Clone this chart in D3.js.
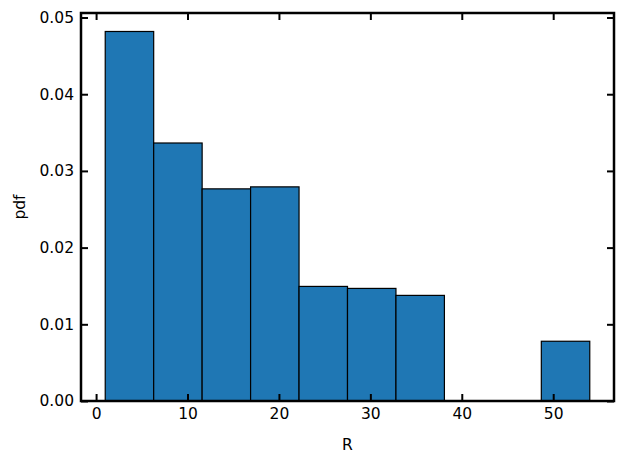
<!DOCTYPE html>
<html><head><meta charset="utf-8">
<script src="https://cdn.jsdelivr.net/npm/d3@7/dist/d3.min.js"></script>
<style>body{margin:0;background:#fff}svg{display:block}text{font-family:"DejaVu Sans",sans-serif}</style>
</head><body><svg id="c" width="623" height="463"></svg>
<script>
const binEdges = [1.0, 6.3, 11.6, 16.9, 22.2, 27.5, 32.8, 38.1, 43.4, 48.7, 54.0];
const pdfValues = [0.04818, 0.03364, 0.02766, 0.02792, 0.01494, 0.01468, 0.01377, 0.00005, 0.00005, 0.00779];
const xTicks = [0, 10, 20, 30, 40, 50];
const yTicks = [0.00, 0.01, 0.02, 0.03, 0.04, 0.05];

const svg = d3.select("#c");
const L = 81, R = 614, T = 13, B = 401;
const FS = 15.5;
const x = d3.scaleLinear().domain([-1.65, 56.65]).range([L, R]);
const y = d3.scaleLinear().domain([0, 0.05059]).range([B, T]);

const bins = pdfValues.map((v, i) => ({x0: binEdges[i], x1: binEdges[i + 1], v}));
svg.append("g").selectAll("rect").data(bins).join("rect")
  .attr("x", d => x(d.x0)).attr("width", d => x(d.x1) - x(d.x0))
  .attr("y", d => y(d.v)).attr("height", d => y(0) - y(d.v))
  .attr("fill", "#1f77b4").attr("stroke", "#000").attr("stroke-width", 1.2);

const tl = 7, tw = 2;
function styleAxis(g) {
  g.select(".domain").remove();
  g.selectAll(".tick line").attr("stroke", "#000").attr("stroke-width", tw);
  g.selectAll(".tick text").attr("font-size", FS).attr("fill", "#000");
}
svg.append("g").attr("transform", `translate(0,${B})`)
  .call(d3.axisBottom(x).tickValues(xTicks).tickSize(-tl).tickPadding(7).tickFormat(d3.format("d")))
  .call(styleAxis);
svg.append("g").attr("transform", `translate(0,${T})`)
  .call(d3.axisTop(x).tickValues(xTicks).tickSize(-tl).tickFormat(""))
  .call(styleAxis);
svg.append("g").attr("transform", `translate(${L},0)`)
  .call(d3.axisLeft(y).tickValues(yTicks).tickSize(-tl).tickPadding(7).tickFormat(d3.format(".2f")))
  .call(styleAxis);
svg.append("g").attr("transform", `translate(${R},0)`)
  .call(d3.axisRight(y).tickValues(yTicks).tickSize(-tl).tickFormat(""))
  .call(styleAxis);

svg.append("rect").attr("x", L).attr("y", T).attr("width", R - L).attr("height", B - T)
  .attr("fill", "none").attr("stroke", "#000").attr("stroke-width", 2.5);

svg.append("text").attr("x", (L + R) / 2).attr("y", 450).attr("text-anchor", "middle")
  .attr("font-size", FS).text("R");
svg.append("text").attr("transform", `translate(25,${(T + B) / 2}) rotate(-90)`).attr("text-anchor", "middle")
  .attr("font-size", FS).text("pdf");
</script></body></html>
